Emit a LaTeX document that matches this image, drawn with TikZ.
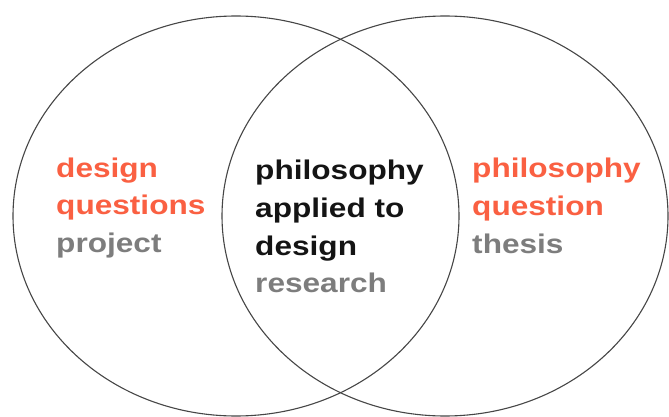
\documentclass[tikz,border=0pt]{standalone}
\usepackage{fontspec}
\setmainfont{Liberation Sans}
\usetikzlibrary{shapes.geometric}
\definecolor{accent}{RGB}{250,96,66}
\definecolor{muted}{RGB}{125,125,125}
\definecolor{ink}{RGB}{20,20,20}
\definecolor{rim}{RGB}{70,70,70}
\tikzset{
  setshape/.style={ellipse, draw=rim, line width=1.1pt, inner sep=0pt,
    minimum width=446pt, minimum height=400pt},
  lbl/.style={anchor=base west, inner sep=0pt, xscale=1.17,
    font=\fontsize{27}{31}\selectfont\bfseries},
  hot/.style={lbl, text=accent},
  dim/.style={lbl, text=muted},
  dark/.style={lbl, text=ink}
}
\begin{document}
\begin{tikzpicture}[x=1pt,y=-1pt]
\useasboundingbox[fill=white] (0,0) rectangle (669,417);
\node[setshape] (leftset) at (236,216) {};
\node[setshape] (rightset) at (445,216) {};
% left
\node[hot] (l1) at (56,177) {design};
\node[hot] (l2) at (56,214.5) {questions};
\node[dim] (l3) at (56,252) {project};
% center
\node[dark] (c1) at (255,179) {philosophy};
\node[dark] (c2) at (255,217) {applied to};
\node[dark] (c3) at (255,255) {design};
\node[dim] (c4) at (255,292) {research};
% right
\node[hot] (r1) at (472,177) {philosophy};
\node[hot] (r2) at (472,215) {question};
\node[dim] (r3) at (472,253) {thesis};
\end{tikzpicture}
\end{document}
